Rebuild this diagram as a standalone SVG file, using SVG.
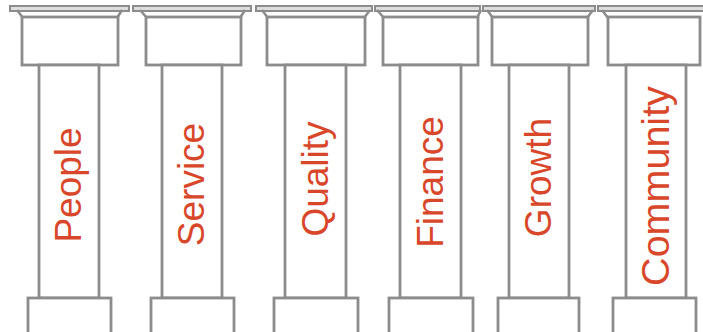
<svg xmlns="http://www.w3.org/2000/svg" width="703" height="332" viewBox="0 0 703 332">
<style>
.bar{fill:#dedede;stroke:#8c8c8c;stroke-width:2}
.leg{fill:none;stroke:#8c8c8c;stroke-width:2.5}
.box{fill:#ffffff;stroke:#8c8c8c;stroke-width:2.8}
.in{fill:none;stroke:#c8c8c8;stroke-width:0.8}
.lbl{font-family:"Liberation Sans",Arial,sans-serif;font-size:37px;fill:#D9472B;text-anchor:middle}
</style>
<rect width="703" height="332" fill="#ffffff"/>
<g id="pillar-people">
<rect class="bar" x="10" y="6" width="119" height="5"/>
<path class="leg" d="M17 10 L23 18 M122 10 L117 18"/>
<rect class="box" x="22" y="17" width="96" height="48"/>
<rect class="box" x="39" y="65" width="60" height="233"/>
<rect class="box" x="28" y="298" width="83" height="40"/>
<text class="lbl" transform="translate(69,185) rotate(-90)" y="12">People</text>
</g>
<g id="pillar-service">
<rect class="bar" x="133" y="6" width="118" height="5"/>
<path class="leg" d="M140 10 L147 18 M245 10 L240 18"/>
<rect class="box" x="146" y="17" width="95" height="48"/>
<rect class="box" x="162" y="65" width="60" height="233"/>
<rect class="box" x="151" y="298" width="83" height="40"/>
<text class="lbl" transform="translate(192,184.5) rotate(-90)" y="12">Service</text>
</g>
<g id="pillar-quality">
<rect class="bar" x="256" y="6" width="116" height="5"/>
<path class="leg" d="M262 10 L268 18 M370 10 L364 18"/>
<rect class="box" x="267" y="17" width="98" height="48"/>
<rect class="box" x="285" y="65" width="61" height="233"/>
<rect class="box" x="274" y="298" width="84" height="40"/>
<text class="lbl" transform="translate(315.5,179) rotate(-90)" y="12">Quality</text>
</g>
<g id="pillar-finance">
<rect class="bar" x="375" y="6" width="105" height="5"/>
<path class="leg" d="M377 10 L384 18 M481 10 L477 18"/>
<rect class="box" x="383" y="17" width="95" height="48"/>
<rect class="box" x="400" y="65" width="61" height="233"/>
<rect class="box" x="389" y="298" width="84" height="40"/>
<text class="lbl" transform="translate(430.5,182) rotate(-90)" y="12">Finance</text>
</g>
<g id="pillar-growth">
<rect class="bar" x="483" y="6" width="112" height="5"/>
<path class="leg" d="M487 10 L493 18 M593 10 L587 18"/>
<rect class="box" x="492" y="17" width="96" height="48"/>
<rect class="box" x="509" y="65" width="60" height="233"/>
<rect class="box" x="498" y="298" width="81" height="40"/>
<text class="lbl" transform="translate(539,177.5) rotate(-90)" y="12">Growth</text>
</g>
<g id="pillar-community">
<rect class="bar" x="598" y="6" width="110" height="5"/>
<path class="leg" d="M602 10 L608 18"/>
<rect class="box" x="608" y="17" width="92" height="48"/>
<rect class="box" x="626" y="65" width="60" height="233"/>
<rect class="box" x="613" y="298" width="83" height="40"/>
<text class="lbl" style="font-size:39.5px" transform="translate(656,186) rotate(-90)" y="13">Community</text>
</g>
<g id="connectors"></g>
</svg>
